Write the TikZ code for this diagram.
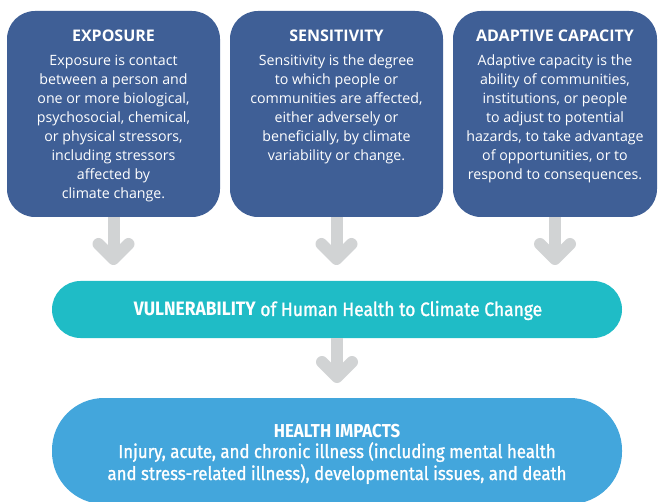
\documentclass[tikz,border=0pt]{standalone}
\usepackage{fontspec}
\setmainfont{Open Sans}
\newfontfamily\condfont[FakeStretch=0.9]{Fira Sans}
\newfontfamily\condmed[FakeStretch=0.9,FakeBold=1.2]{Fira Sans}
\definecolor{navy}{HTML}{3F5F96}
\definecolor{teal}{HTML}{1FBCC6}
\definecolor{hblue}{HTML}{43A6DC}
\definecolor{agray}{HTML}{D1D3D4}
\tikzset{
  topbox/.style={fill=navy, rounded corners=28pt},
  ttl/.style={text=white, font=\fontsize{16}{19}\selectfont\bfseries, inner sep=0pt, anchor=base},
  body/.style={text=white, font=\fontsize{14.2}{19}\selectfont, align=center, inner sep=0pt, anchor=north},
  shaft/.style={draw=agray, line width=12pt},
  chev/.style={draw=agray, line width=12pt, line cap=round, line join=round},
  wtext/.style={text=white, inner sep=0pt, anchor=base}
}
\begin{document}
\begin{tikzpicture}[x=1pt,y=-1pt]
\useasboundingbox (0,0) rectangle (658,502);
\clip (0,0) rectangle (658,502);
% top boxes
\path[topbox] (7,11) rectangle (220,217);
\path[topbox] (230,11) rectangle (443,217);
\path[topbox] (453,11) rectangle (657,217);
\coordinate (b1) at (113.5,217);
\coordinate (b2) at (336.5,217);
\coordinate (b3) at (555,217);
% titles
\node[ttl] (t1) at (113.5,42) {EXPOSURE};
\node[ttl] (t2) at (336.5,42) {SENSITIVITY};
\node[ttl] (t3) at (555,42) {ADAPTIVE CAPACITY};
% bodies
\node[body] (d1) at (113.5,54.5) {Exposure is contact\\between a person and\\one or more biological,\\psychosocial, chemical,\\or physical stressors,\\including stressors\\affected by\\climate change.};
\node[body] (d2) at (336.5,54.5) {Sensitivity is the degree\\to which people or\\communities are affected,\\either adversely or\\beneficially, by climate\\variability or change.};
\node[body] (d3) at (555,54.5) {Adaptive capacity is the\\ability of communities,\\institutions, or people\\to adjust to potential\\hazards, to take advantage\\of opportunities, or to\\respond to consequences.};
% vulnerability bar
\path[fill=teal, rounded corners=28.5pt] (52,281) rectangle (622,338);
\coordinate (vtop) at (337,281);
\coordinate (vbot) at (337,338);
\node[wtext, font=\condmed\fontsize{19.4}{22}\selectfont] (vt) at (338,316) {{\condfont\bfseries VULNERABILITY} of Human Health to Climate Change};
% health impacts
\path[fill=hblue, rounded corners=52pt] (52,398) rectangle (622,504);
\node[wtext, font=\condfont\bfseries\fontsize{18.7}{22}\selectfont] (ht) at (337,437) {HEALTH IMPACTS};
\node[text=white, inner sep=0pt, align=center, anchor=north, font=\condmed\fontsize{18.7}{22}\selectfont] (hd) at (337,442) {Injury, acute, and chronic illness (including mental health\\and stress-related illness), developmental issues, and death};
% arrows
\foreach \b/\x in {b1/113.5, b2/336.5, b3/555}{
  \coordinate (tip\b) at (\x,259);
  \draw[shaft] (\b) -- (tip\b);
  \draw[chev] ([xshift=-15pt,yshift=15pt]tip\b) -- (tip\b) -- ([xshift=15pt,yshift=15pt]tip\b);
}
\coordinate (tipv) at (337,377);
\draw[shaft] (vbot) -- (tipv);
\draw[chev] ([xshift=-15pt,yshift=15pt]tipv) -- (tipv) -- ([xshift=15pt,yshift=15pt]tipv);
\end{tikzpicture}
\end{document}
